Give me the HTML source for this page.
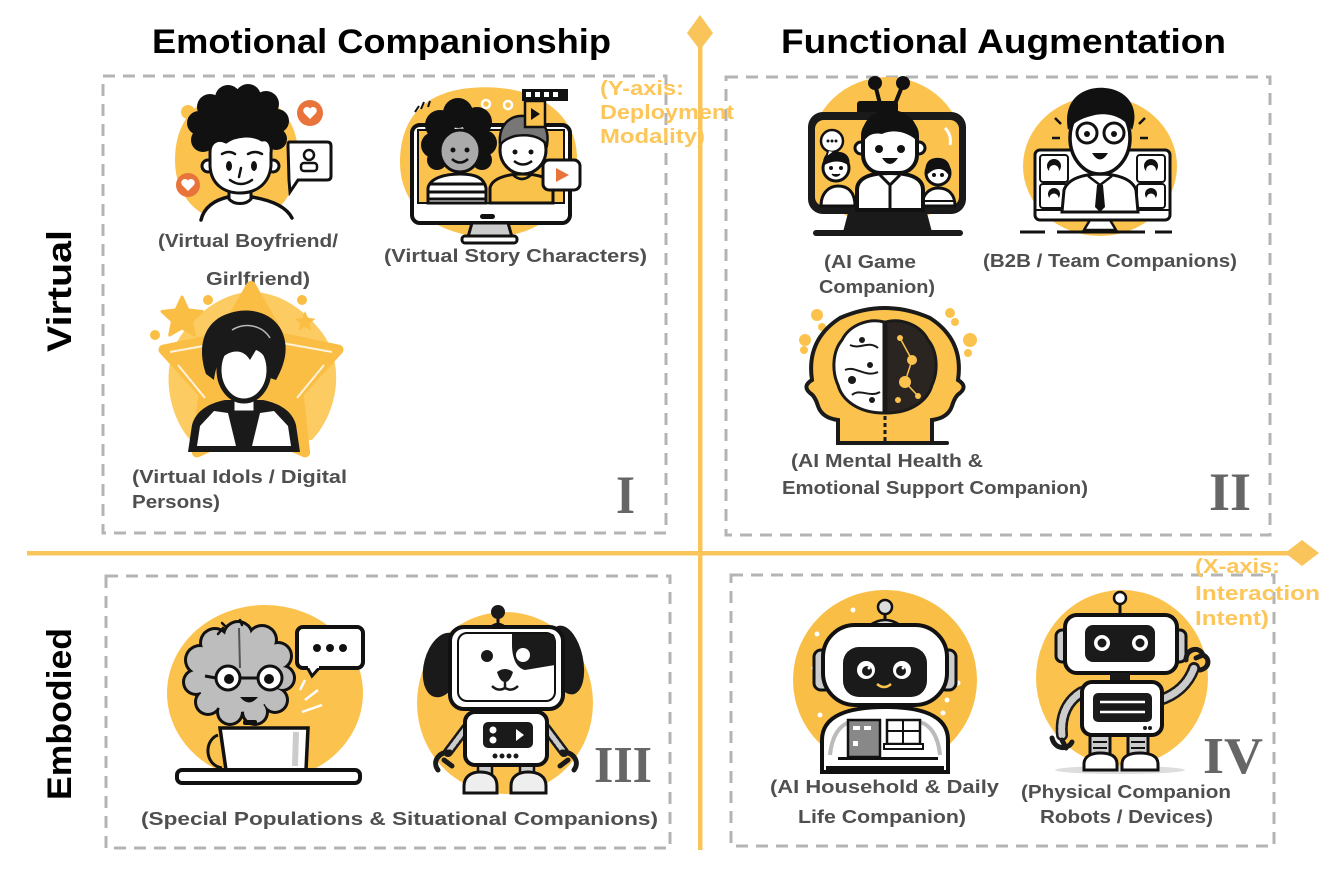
<!DOCTYPE html>
<html><head><meta charset="utf-8"><style>
html,body{margin:0;padding:0;background:#fff;}
svg{display:block;}
.t{font-family:"Liberation Sans",Arial,sans-serif;font-weight:bold;}
.lb{font-family:"Liberation Sans",Arial,sans-serif;font-weight:bold;font-size:18.5px;fill:#4f4f4f;}
.ax{font-family:"Liberation Sans",Arial,sans-serif;font-weight:bold;font-size:20px;fill:#FCC65A;}
.rn{font-family:"Liberation Serif","Times New Roman",serif;font-weight:bold;fill:#666;}
</style></head><body>
<svg width="1344" height="877" viewBox="0 0 1344 877" xmlns="http://www.w3.org/2000/svg">
<rect width="1344" height="877" fill="#fff"/>

<!-- dashed boxes -->
<g fill="none" stroke="#b4b4b4" stroke-width="3" stroke-dasharray="12 8">
<rect x="103" y="76" width="563" height="457"/>
<rect x="726" y="77" width="544" height="458"/>
<rect x="106" y="576" width="564" height="272"/>
<rect x="731" y="575" width="543" height="271"/>
</g>

<!-- axes -->
<g fill="#F9C55A">
<rect x="698" y="30" width="4.5" height="820"/>
<polygon points="700,15 713,33 700,50 687,33"/>
<rect x="27" y="551" width="1280" height="4.5"/>
<polygon points="1285,553 1302,540 1319,553 1302,566"/>
</g>

<!-- titles -->
<text class="t" x="152" y="53" font-size="34" textLength="459" lengthAdjust="spacingAndGlyphs" fill="#000">Emotional Companionship</text>
<text class="t" x="781" y="53" font-size="34" textLength="445" lengthAdjust="spacingAndGlyphs" fill="#000">Functional Augmentation</text>

<!-- side labels -->
<text class="t" transform="translate(71,291) rotate(-90)" text-anchor="middle" font-size="34" textLength="122" lengthAdjust="spacingAndGlyphs" fill="#000">Virtual</text>
<text class="t" transform="translate(71,714) rotate(-90)" text-anchor="middle" font-size="34" textLength="172" lengthAdjust="spacingAndGlyphs" fill="#000">Embodied</text>

<!-- ================= Q1 ================= -->
<!-- Boyfriend -->
<g>
<path d="M236,93 C275,92 300,120 298,160 C296,200 272,224 236,223 C200,222 175,198 175,160 C175,118 200,94 236,93 Z" fill="#FBC34E"/>
<circle cx="188" cy="112" r="7" fill="#FBC34E"/>
<path d="M198,224 C201,207 214,200 228,197 L252,197 C270,200 288,206 296,224 Z" fill="#fff"/>
<path d="M201,220 C204,207 215,200 228,197 M252,197 C270,200 286,206 292,218" fill="none" stroke="#111" stroke-width="3.5" stroke-linecap="round"/>
<path d="M229,186 L229,199 C234,205 246,205 251,199 L251,186" fill="#fff" stroke="#111" stroke-width="3"/>
<g fill="#111">
<circle cx="203" cy="140" r="12"/><circle cx="199" cy="123" r="12"/><circle cx="210" cy="107" r="13"/>
<circle cx="228" cy="98" r="13"/><circle cx="248" cy="97" r="13"/><circle cx="266" cy="104" r="13"/>
<circle cx="277" cy="121" r="12"/><circle cx="276" cy="139" r="11"/><ellipse cx="240" cy="124" rx="36" ry="26"/>
</g>
<circle cx="208" cy="166" r="6" fill="#fff" stroke="#111" stroke-width="3"/>
<circle cx="273" cy="166" r="6" fill="#fff" stroke="#111" stroke-width="3"/>
<path d="M210,152 C210,142 218,138 226,142 C236,135 252,134 262,140 C269,138 272,146 271,153 L271,166 C269,185 255,193 240,193 C225,193 211,185 210,166 Z" fill="#fff" stroke="#111" stroke-width="3"/>
<ellipse cx="229" cy="166" rx="3" ry="5" fill="#111"/><ellipse cx="254" cy="166" rx="3" ry="5" fill="#111"/>
<path d="M222,154 Q229,150 235,154 M248,154 Q255,150 262,154 M241,168 L239,177 M230,180 Q241,188 252,180" fill="none" stroke="#111" stroke-width="2.5" stroke-linecap="round"/>
<circle cx="310" cy="113" r="13" fill="#E8743B"/>
<path d="M310,119 L304,113 A3.2,3.2 0 0 1 310,108.5 A3.2,3.2 0 0 1 316,113 Z" fill="#fff"/>
<circle cx="188" cy="185" r="12" fill="#E8743B"/>
<path d="M188,191 L182,185 A3.2,3.2 0 0 1 188,180.5 A3.2,3.2 0 0 1 194,185 Z" fill="#fff"/>
<path d="M289,142 L327,142 Q331,142 331,146 L331,176 Q331,180 327,180 L298,180 L290,192 L289,180 L288,146 Q288,142 289,142 Z" fill="#fff" stroke="#111" stroke-width="3"/>
<circle cx="309" cy="155" r="5" fill="none" stroke="#111" stroke-width="2.5"/>
<rect x="301" y="163" width="16" height="8" rx="3" fill="none" stroke="#111" stroke-width="2.5"/>
</g>
<text class="lb" x="158" y="247" textLength="180" lengthAdjust="spacingAndGlyphs">(Virtual Boyfriend/</text>
<text class="lb" x="206" y="285" textLength="104" lengthAdjust="spacingAndGlyphs">Girlfriend)</text>

<!-- Story characters -->
<g>
<path d="M470,88 C530,82 578,110 577,160 C576,205 540,238 488,237 C440,236 400,210 400,162 C400,118 425,92 470,88 Z" fill="#FBC34E"/>
<rect x="412" y="125" width="158" height="98" rx="8" fill="#fff" stroke="#111" stroke-width="4"/>
<rect x="418" y="130" width="146" height="73" fill="#FBC34E" stroke="#111" stroke-width="2"/>
<!-- left person -->
<g fill="#111">
<circle cx="440" cy="125" r="15"/><circle cx="458" cy="113" r="15"/><circle cx="477" cy="122" r="15"/>
<circle cx="434" cy="145" r="13"/><circle cx="484" cy="143" r="13"/><circle cx="437" cy="160" r="10"/><circle cx="482" cy="160" r="10"/>
</g>
<ellipse cx="460" cy="151" rx="20" ry="21" fill="#aaa" stroke="#111" stroke-width="3"/>
<circle cx="453" cy="150" r="2.5" fill="#111"/><circle cx="467" cy="150" r="2.5" fill="#111"/>
<path d="M452,159 Q460,166 468,159" fill="none" stroke="#111" stroke-width="2.5"/>
<path d="M428,203 L428,188 C430,178 445,174 460,174 C476,174 484,178 486,188 L486,203 Z" fill="#fff" stroke="#111" stroke-width="3"/>
<path d="M429,184 L485,184 M428,192 L486,192 M428,199 L486,199" stroke="#111" stroke-width="3"/>
<!-- right person -->
<path d="M490,203 L490,188 C492,178 508,174 522,174 C538,174 552,178 553,188 L553,203 Z" fill="#F9C24A" stroke="#111" stroke-width="3"/>
<path d="M512,174 Q522,184 532,174" fill="none" stroke="#111" stroke-width="2.5"/>
<ellipse cx="523" cy="150" rx="23" ry="24" fill="#fff" stroke="#111" stroke-width="3"/>
<path d="M500,145 C498,125 510,115 524,116 C540,116 550,126 547,145 C540,136 528,134 515,136 C508,138 503,141 500,145 Z" fill="#777" stroke="#111" stroke-width="2.5"/>
<circle cx="515" cy="152" r="2.5" fill="#111"/><circle cx="531" cy="152" r="2.5" fill="#111"/>
<path d="M514,161 Q523,168 532,161" fill="none" stroke="#111" stroke-width="2.5"/>
<rect x="480" y="214" width="15" height="5" rx="2.5" fill="#111"/>
<path d="M472,223 L508,223 L512,237 L468,237 Z" fill="#ccc" stroke="#111" stroke-width="3"/>
<rect x="462" y="236" width="55" height="7" rx="3" fill="#fff" stroke="#111" stroke-width="3"/>
<rect x="522" y="89" width="46" height="12" fill="#111"/>
<g fill="#fff"><rect x="526" y="92" width="5" height="5"/><rect x="535" y="92" width="5" height="5"/><rect x="544" y="92" width="5" height="5"/><rect x="553" y="92" width="5" height="5"/></g>
<rect x="525" y="101" width="20" height="26" fill="#FBC34E" stroke="#111" stroke-width="2.5"/>
<path d="M531,108 L540,114 L531,120 Z" fill="#111"/>
<rect x="543" y="160" width="37" height="30" rx="6" fill="#fff" stroke="#111" stroke-width="3"/>
<path d="M556,168 L569,175 L556,182 Z" fill="#E8743B"/>
<circle cx="486" cy="104" r="4" fill="none" stroke="#fff" stroke-width="2.5"/>
<circle cx="508" cy="105" r="4" fill="none" stroke="#fff" stroke-width="2.5"/>
<path d="M415,112 L419,106 M421,109 L424,102 M428,107 L430,101" stroke="#111" stroke-width="2"/>
</g>
<text class="lb" x="384" y="262" textLength="263" lengthAdjust="spacingAndGlyphs">(Virtual Story Characters)</text>

<!-- Idol -->
<g>
<path d="M190,440 C165,410 160,360 185,330 C205,305 230,292 252,292 C275,292 300,305 320,330 C345,360 340,410 312,440 Z" fill="#FCCB62"/>
<polygon points="251,286 280.4,337.5 338.5,349.6 298.6,393.5 305.1,452.4 251,428 196.9,452.4 203.4,393.5 163.5,349.6 221.6,337.5" fill="#FBBE45" stroke="#FBBE45" stroke-width="10" stroke-linejoin="round"/>
<path d="M170,352 L220,343 M332,352 L282,343 M205,398 L178,365 M297,398 L324,365" stroke="#fff" stroke-width="2" opacity="0.8"/>
<polygon points="182,297 187.9,309.9 202,311.5 191.5,321.1 194.3,335 182,328 169.7,335 172.5,321.1 162,311.5 176.1,309.9" fill="#FBBE45" stroke="#FBBE45" stroke-width="3" stroke-linejoin="round"/>
<polygon points="305,311 307.9,318 315.5,318.6 309.8,323.5 311.5,330.9 305,327 298.5,330.9 300.2,323.5 294.5,318.6 302.1,318" fill="#FBBE45"/>
<circle cx="208" cy="300" r="5" fill="#FBBE45"/><circle cx="302" cy="300" r="5" fill="#FBBE45"/><circle cx="155" cy="335" r="5" fill="#FBBE45"/>
<path d="M188,452 L192,425 C196,410 210,403 225,400 L263,400 C278,403 292,410 296,425 L300,452 Z" fill="#1a1a1a"/>
<polygon points="197,446 200,426 214,411 228,413 236,446" fill="#fff"/>
<polygon points="291,446 288,426 274,411 260,413 252,446" fill="#fff"/>
<rect x="233" y="392" width="22" height="20" fill="#fff" stroke="#1a1a1a" stroke-width="3"/>
<polygon points="236,412 252,412 250,446 238,446" fill="#1a1a1a"/>
<ellipse cx="244" cy="370" rx="25" ry="31" fill="#fff" stroke="#1a1a1a" stroke-width="5"/>
<path d="M206,374 C196,345 205,320 230,313 C252,306 276,314 283,334 C289,350 284,366 276,380 L270,378 C270,362 264,353 256,350 L250,360 C244,350 234,349 224,356 C217,362 215,372 214,380 Z" fill="#1a1a1a"/>
<path d="M232,330 C245,322 262,325 270,338" fill="none" stroke="#fff" stroke-width="1.5" opacity="0.7"/>
</g>
<text class="lb" x="132" y="483" textLength="215" lengthAdjust="spacingAndGlyphs">(Virtual Idols / Digital</text>
<text class="lb" x="132" y="508" textLength="88" lengthAdjust="spacingAndGlyphs">Persons)</text>
<text class="rn" x="616" y="513" font-size="54" textLength="19" lengthAdjust="spacingAndGlyphs">I</text>

<!-- Y-axis label -->
<text class="ax" x="600" y="95" textLength="84" lengthAdjust="spacingAndGlyphs">(Y-axis:</text>
<text class="ax" x="600" y="119" textLength="134" lengthAdjust="spacingAndGlyphs">Deployment</text>
<text class="ax" x="600" y="143" textLength="105" lengthAdjust="spacingAndGlyphs">Modality)</text>

<!-- ================= Q2 ================= -->
<!-- AI Game -->
<g>
<ellipse cx="887" cy="152" rx="77" ry="75" fill="#FBC34E"/>
<path d="M880,104 L875,84 M895,104 L903,84" stroke="#111" stroke-width="4"/>
<circle cx="875" cy="83" r="7" fill="#111"/><circle cx="903" cy="83" r="7" fill="#111"/>
<rect x="857" y="101" width="41" height="14" rx="3" fill="#111"/>
<rect x="808" y="112" width="158" height="102" rx="15" fill="#1a1a1a"/>
<rect x="815" y="120" width="144" height="86" rx="9" fill="#FBC34E"/>
<path d="M848,213 L927,213 L932,232 L843,232 Z" fill="#1a1a1a"/>
<rect x="813" y="230" width="150" height="6" rx="3" fill="#1a1a1a"/>
<!-- left person -->
<path d="M821,206 C821,192 830,186 838,186 C848,186 855,192 855,206 Z" fill="#fff" stroke="#111" stroke-width="3"/>
<circle cx="836" cy="168" r="13" fill="#fff" stroke="#111" stroke-width="3"/>
<path d="M823,166 C822,152 832,150 840,152 C848,153 851,160 849,166 C842,160 832,160 823,166 Z" fill="#111"/>
<circle cx="831" cy="168" r="2" fill="#111"/><circle cx="841" cy="168" r="2" fill="#111"/>
<path d="M832,174 Q836,178 840,174" fill="#111" stroke="#111" stroke-width="1.5"/>
<!-- right person -->
<path d="M922,206 C922,194 930,188 938,188 C948,188 955,194 955,206 Z" fill="#fff" stroke="#111" stroke-width="3"/>
<path d="M924,201 L954,201" stroke="#111" stroke-width="2"/>
<circle cx="938" cy="173" r="12" fill="#fff" stroke="#111" stroke-width="3"/>
<path d="M926,176 C923,160 932,157 940,158 C948,159 952,165 950,178 C946,168 936,165 926,176 Z" fill="#111"/>
<circle cx="934" cy="175" r="2" fill="#111"/><circle cx="942" cy="175" r="2" fill="#111"/>
<!-- speech -->
<circle cx="832" cy="141" r="11" fill="#fff" stroke="#111" stroke-width="2.5"/>
<path d="M828,151 L826,158 L834,152" fill="#fff" stroke="#111" stroke-width="2"/>
<circle cx="828" cy="141" r="1.5" fill="#111"/><circle cx="832" cy="141" r="1.5" fill="#111"/><circle cx="836" cy="141" r="1.5" fill="#111"/>
<!-- center person -->
<path d="M857,210 L857,190 C857,178 870,173 890,173 C910,173 923,178 923,190 L923,210 Z" fill="#fff" stroke="#111" stroke-width="4"/>
<path d="M880,175 L890,185 L900,175 M890,185 L890,210" fill="none" stroke="#111" stroke-width="3"/>
<circle cx="861" cy="148" r="6" fill="#fff" stroke="#111" stroke-width="3"/>
<circle cx="919" cy="148" r="6" fill="#fff" stroke="#111" stroke-width="3"/>
<rect x="863" y="118" width="54" height="55" rx="18" fill="#fff" stroke="#111" stroke-width="4"/>
<path d="M862,142 C860,118 876,110 890,110 C906,110 920,120 918,142 C910,133 895,128 882,134 C872,132 866,136 862,145 Z" fill="#111"/>
<circle cx="879" cy="149" r="4" fill="#111"/><circle cx="901" cy="149" r="4" fill="#111"/>
<path d="M882,158 Q890,170 898,158 Z" fill="#111"/>
<path d="M945,128 Q952,135 950,145" stroke="#fff" stroke-width="3" fill="none"/>
</g>
<text class="lb" x="824" y="268" textLength="92" lengthAdjust="spacingAndGlyphs">(AI Game</text>
<text class="lb" x="819" y="293" textLength="116" lengthAdjust="spacingAndGlyphs">Companion)</text>

<!-- B2B -->
<g>
<ellipse cx="1100" cy="166" rx="77" ry="70" fill="#FBC34E"/>
<path d="M1020,232 L1045,232 M1057,232 L1145,232 M1155,232 L1172,232" stroke="#111" stroke-width="3"/>
<path d="M1090,220 L1084,230 L1116,230 L1110,220 Z" fill="#fff" stroke="#111" stroke-width="2.5"/>
<rect x="1035" y="150" width="135" height="70" rx="5" fill="#fff" stroke="#111" stroke-width="3"/>
<path d="M1035,210 L1170,210" stroke="#111" stroke-width="2"/>
<g fill="#fff" stroke="#111" stroke-width="2">
<rect x="1040" y="155" width="28" height="27" rx="3"/><rect x="1040" y="184" width="28" height="24" rx="3"/>
<rect x="1137" y="155" width="28" height="27" rx="3"/><rect x="1137" y="184" width="28" height="24" rx="3"/>
</g>
<g fill="#111"><circle cx="1054" cy="166" r="7"/><circle cx="1151" cy="166" r="7"/><circle cx="1054" cy="194" r="6"/><circle cx="1151" cy="194" r="6"/></g>
<g fill="#fff"><circle cx="1054" cy="170" r="5"/><circle cx="1151" cy="170" r="5"/><circle cx="1054" cy="198" r="4.5"/><circle cx="1151" cy="198" r="4.5"/></g>
<path d="M1062,212 L1064,190 C1068,178 1085,174 1100,174 C1115,174 1132,178 1136,190 L1138,212 Z" fill="#fff" stroke="#111" stroke-width="3"/>
<path d="M1088,176 L1100,185 L1112,176" fill="none" stroke="#111" stroke-width="2.5"/>
<path d="M1097,185 L1103,185 L1105,207 L1100,212 L1095,207 Z" fill="#111"/>
<ellipse cx="1100" cy="138" rx="30" ry="36" fill="#fff" stroke="#111" stroke-width="3.5"/>
<path d="M1068,130 C1062,98 1085,86 1105,88 C1128,90 1140,108 1132,130 C1125,118 1110,112 1095,115 C1082,118 1074,122 1068,130 Z" fill="#111"/>
<circle cx="1087" cy="133" r="10" fill="#fff" stroke="#111" stroke-width="3"/>
<circle cx="1114" cy="133" r="10" fill="#fff" stroke="#111" stroke-width="3"/>
<circle cx="1087" cy="134" r="3" fill="#111"/><circle cx="1114" cy="134" r="3" fill="#111"/>
<path d="M1092,153 Q1100,166 1108,153 Z" fill="#111"/>
<path d="M1055,118 L1061,124 M1145,118 L1139,124 M1052,138 L1060,138 M1148,138 L1140,138" stroke="#111" stroke-width="2.5"/>
</g>
<text class="lb" x="983" y="267" textLength="254" lengthAdjust="spacingAndGlyphs">(B2B / Team Companions)</text>

<!-- Brain heads -->
<g>
<circle cx="817" cy="315" r="6" fill="#FBC34E"/><circle cx="822" cy="327" r="4" fill="#FBC34E"/>
<circle cx="805" cy="340" r="6" fill="#FBC34E"/><circle cx="804" cy="350" r="4" fill="#FBC34E"/>
<circle cx="950" cy="313" r="5" fill="#FBC34E"/><circle cx="955" cy="322" r="4" fill="#FBC34E"/>
<circle cx="970" cy="340" r="7" fill="#FBC34E"/><circle cx="968" cy="353" r="4" fill="#FBC34E"/>
<path d="M838,443 L838,420 Q822,418 818,406 Q815,396 810,393 Q802,386 812,380 Q806,340 840,318 Q885,298 930,318 Q964,340 958,380 Q968,386 960,393 Q955,396 952,406 Q948,418 932,420 L932,443 Z" fill="#FBC34E" stroke="#1a1a1a" stroke-width="4"/>
<path d="M884,322 C870,318 850,324 842,340 C832,352 832,372 838,385 C842,400 858,413 884,413 Z" fill="#fff" stroke="#1a1a1a" stroke-width="3"/>
<path d="M886,322 C900,318 920,324 928,340 C938,352 938,372 932,385 C928,400 912,413 886,413 Z" fill="#2a2520" stroke="#1a1a1a" stroke-width="3"/>
<path d="M850,345 C860,350 868,340 878,348 M845,370 C855,365 865,378 878,372 M852,395 C860,388 870,398 880,392" fill="none" stroke="#1a1a1a" stroke-width="2"/>
<g fill="#1a1a1a"><circle cx="862" cy="340" r="3"/><circle cx="852" cy="380" r="4"/><circle cx="872" cy="400" r="3"/><circle cx="870" cy="365" r="3"/></g>
<g fill="#FBC34E"><circle cx="900" cy="338" r="3"/><circle cx="912" cy="360" r="5"/><circle cx="905" cy="382" r="6"/><circle cx="918" cy="396" r="3"/><circle cx="898" cy="400" r="3"/></g>
<path d="M900,338 L912,360 L905,382 L918,396" fill="none" stroke="#FBC34E" stroke-width="1.5"/>
<path d="M885,416 L885,443" stroke="#1a1a1a" stroke-width="3" stroke-dasharray="4 3"/>
<rect x="837" y="441" width="112" height="4" rx="2" fill="#1a1a1a"/>
</g>
<text class="lb" x="791" y="467" textLength="192" lengthAdjust="spacingAndGlyphs">(AI Mental Health &amp;</text>
<text class="lb" x="782" y="494" textLength="306" lengthAdjust="spacingAndGlyphs">Emotional Support Companion)</text>
<text class="rn" x="1209" y="510" font-size="54" textLength="42" lengthAdjust="spacingAndGlyphs">II</text>

<!-- ================= Q3 ================= -->
<g>
<ellipse cx="265" cy="693" rx="98" ry="88" fill="#FBC34E"/>
<!-- brain -->
<g fill="#111">
<circle cx="200" cy="660" r="16"/><circle cx="215" cy="643" r="16"/><circle cx="238" cy="636" r="16"/><circle cx="262" cy="640" r="16"/><circle cx="278" cy="656" r="15"/>
<circle cx="282" cy="678" r="14"/><circle cx="275" cy="700" r="14"/><circle cx="255" cy="712" r="14"/><circle cx="230" cy="712" r="14"/><circle cx="208" cy="702" r="14"/><circle cx="196" cy="682" r="14"/>
</g>
<g fill="#bdbdbd">
<circle cx="200" cy="660" r="13"/><circle cx="215" cy="643" r="13"/><circle cx="238" cy="636" r="13"/><circle cx="262" cy="640" r="13"/><circle cx="278" cy="656" r="12"/>
<circle cx="282" cy="678" r="11"/><circle cx="275" cy="700" r="11"/><circle cx="255" cy="712" r="11"/><circle cx="230" cy="712" r="11"/><circle cx="208" cy="702" r="11"/><circle cx="196" cy="682" r="11"/>
<ellipse cx="238" cy="676" rx="42" ry="36"/>
</g>
<path d="M239,628 L240,668" stroke="#555" stroke-width="2"/>
<path d="M218,634 L223,628 M240,620 L242,625 M222,623 L225,626" stroke="#111" stroke-width="2.5" stroke-linecap="round"/>
<circle cx="228" cy="678" r="12" fill="#fff" stroke="#111" stroke-width="3"/>
<circle cx="270" cy="678" r="12" fill="#fff" stroke="#111" stroke-width="3"/>
<path d="M240,678 L258,678 M216,678 L205,676" stroke="#111" stroke-width="3"/>
<circle cx="229" cy="679" r="5" fill="#111"/><circle cx="269" cy="679" r="5" fill="#111"/>
<path d="M240,697 Q249,708 258,697 Z" fill="#111"/>
<rect x="243" y="720" width="14" height="5" rx="2" fill="#111"/>
<rect x="297" y="627" width="66" height="41" rx="6" fill="#fff" stroke="#111" stroke-width="4"/>
<path d="M307,667 L312,676 L320,667" fill="#fff" stroke="#111" stroke-width="3"/>
<rect x="308" y="664" width="11" height="4" fill="#fff"/>
<circle cx="317" cy="648" r="4" fill="#111"/><circle cx="330" cy="648" r="4" fill="#111"/><circle cx="343" cy="648" r="4" fill="#111"/>
<path d="M305,700 L318,690 M302,712 L322,705 M300,690 L305,680" stroke="#fff" stroke-width="2.5"/>
<path d="M218,735 C204,740 204,765 222,768" fill="none" stroke="#111" stroke-width="3"/>
<path d="M220,728 L308,728 L306,770 L226,770 Z" fill="#fff" stroke="#111" stroke-width="3.5"/>
<path d="M296,732 L295,766" stroke="#ccc" stroke-width="6"/>
<rect x="177" y="770" width="183" height="13" rx="5" fill="#fff" stroke="#111" stroke-width="4"/>
</g>
<!-- Dog robot -->
<g>
<ellipse cx="505" cy="703" rx="88" ry="91" fill="#FBC34E"/>
<path d="M498,618 L498,628" stroke="#111" stroke-width="3"/>
<circle cx="498" cy="612" r="7" fill="#1a1a1a"/>
<path d="M488,630 Q498,618 508,630 Z" fill="#ddd" stroke="#111" stroke-width="2.5"/>
<ellipse cx="443" cy="665" rx="19" ry="33" transform="rotate(15 443 665)" fill="#1a1a1a"/>
<ellipse cx="566" cy="660" rx="17" ry="35" transform="rotate(-12 566 660)" fill="#1a1a1a"/>
<path d="M495,700 L515,700 L515,714 L495,714 Z" fill="#ccc" stroke="#111" stroke-width="2.5"/>
<rect x="450" y="627" width="113" height="82" rx="14" fill="#fff" stroke="#111" stroke-width="4"/>
<rect x="458" y="633" width="97" height="68" rx="9" fill="none" stroke="#111" stroke-width="2"/>
<path d="M512,634 L552,634 Q555,634 555,640 L555,665 L525,670 C515,668 512,655 512,645 Z" fill="#1a1a1a"/>
<circle cx="487" cy="656" r="6" fill="#1a1a1a"/>
<circle cx="523" cy="655" r="7" fill="#fff"/>
<path d="M497,672 Q505,666 513,672 Q510,682 505,682 Q500,682 497,672 Z" fill="#1a1a1a"/>
<path d="M505,682 L505,688 M492,686 Q498,692 505,688 Q512,692 518,686" fill="none" stroke="#1a1a1a" stroke-width="2.5"/>
<path d="M466,728 L448,752 M546,728 L564,752" stroke="#1a1a1a" stroke-width="10" stroke-linecap="round"/>
<path d="M466,728 L448,752 M546,728 L564,752" stroke="#ccc" stroke-width="5" stroke-linecap="round" stroke-dasharray="3 2"/>
<path d="M450,752 C438,752 432,762 438,770 M444,760 L452,766" fill="none" stroke="#1a1a1a" stroke-width="5" stroke-linecap="round"/>
<path d="M562,752 C574,752 580,762 574,770 M568,760 L560,766" fill="none" stroke="#1a1a1a" stroke-width="5" stroke-linecap="round"/>
<rect x="478" y="764" width="14" height="12" fill="#ccc" stroke="#111" stroke-width="2.5"/>
<rect x="520" y="764" width="14" height="12" fill="#ccc" stroke="#111" stroke-width="2.5"/>
<rect x="465" y="712" width="82" height="53" rx="10" fill="#fff" stroke="#111" stroke-width="4"/>
<rect x="483" y="722" width="50" height="26" rx="5" fill="#1a1a1a"/>
<circle cx="493" cy="730" r="3.5" fill="#fff"/><circle cx="493" cy="740" r="3.5" fill="#fff"/>
<path d="M516,729 L524,735 L516,741 Z" fill="#fff"/>
<g fill="#1a1a1a"><circle cx="495" cy="756" r="2.5"/><circle cx="502" cy="756" r="2.5"/><circle cx="509" cy="756" r="2.5"/><circle cx="516" cy="756" r="2.5"/></g>
<path d="M464,793 L464,786 C464,776 472,772 480,772 C490,772 497,776 497,786 L497,793 Z" fill="#eee" stroke="#111" stroke-width="3"/>
<path d="M511,793 L511,786 C511,776 519,772 528,772 C538,772 546,776 546,786 L546,793 Z" fill="#eee" stroke="#111" stroke-width="3"/>
</g>
<text class="lb" x="141" y="825" textLength="517" lengthAdjust="spacingAndGlyphs">(Special Populations &amp; Situational Companions)</text>
<text class="rn" x="594" y="782" font-size="52" textLength="58" lengthAdjust="spacingAndGlyphs">III</text>

<!-- ================= Q4 ================= -->
<!-- Household robot -->
<g>
<ellipse cx="885" cy="680" rx="92" ry="90" fill="#F8BE45"/>
<g fill="#fff"><circle cx="853" cy="610" r="2.5"/><circle cx="817" cy="634" r="2.5"/><circle cx="814" cy="668" r="2.5"/><circle cx="820" cy="715" r="2.5"/><circle cx="940" cy="645" r="2.5"/><circle cx="958" cy="683" r="2.5"/><circle cx="947" cy="700" r="2.5"/><circle cx="943" cy="713" r="2.5"/></g>
<path d="M885,612 L885,622" stroke="#111" stroke-width="3"/>
<circle cx="885" cy="607" r="7" fill="#ddd" stroke="#111" stroke-width="2.5"/>
<path d="M866,628 Q885,612 904,628 Z" fill="#ddd" stroke="#111" stroke-width="2.5"/>
<path d="M822,772 L822,740 C822,715 850,707 885,707 C920,707 948,715 948,740 L948,772 Z" fill="#fff" stroke="#111" stroke-width="4"/>
<path d="M830,755 C832,735 840,725 850,722 M940,755 C938,735 930,725 920,722" stroke="#bbb" stroke-width="4" fill="none"/>
<rect x="814" y="650" width="17" height="40" rx="7" fill="#ccc" stroke="#111" stroke-width="3"/>
<rect x="939" y="650" width="17" height="40" rx="7" fill="#ccc" stroke="#111" stroke-width="3"/>
<rect x="823" y="625" width="124" height="80" rx="32" fill="#fff" stroke="#111" stroke-width="4"/>
<rect x="843" y="647" width="84" height="50" rx="16" fill="#1a1a1a"/>
<circle cx="866" cy="670" r="9" fill="#fff"/><circle cx="902" cy="670" r="9" fill="#fff"/>
<circle cx="867" cy="671" r="5" fill="#1a1a1a"/><circle cx="901" cy="671" r="5" fill="#1a1a1a"/>
<circle cx="869" cy="668" r="1.5" fill="#fff"/><circle cx="903" cy="668" r="1.5" fill="#fff"/>
<path d="M877,684 Q884,690 891,684" fill="none" stroke="#FBC34E" stroke-width="2.5"/>
<rect x="848" y="720" width="32" height="37" fill="#888" stroke="#111" stroke-width="2.5"/>
<rect x="853" y="726" width="7" height="4" fill="#fff"/><rect x="864" y="726" width="7" height="4" fill="#fff"/>
<rect x="853" y="741" width="5" height="5" fill="#fff"/>
<rect x="887" y="720" width="33" height="24" fill="#fff" stroke="#111" stroke-width="2.5"/>
<path d="M903,720 L903,744 M887,731 L920,731" stroke="#111" stroke-width="2"/>
<rect x="884" y="744" width="39" height="5" fill="#fff" stroke="#111" stroke-width="2"/>
<rect x="838" y="757" width="100" height="3" fill="#111"/>
<rect x="826" y="766" width="118" height="5" fill="#111"/>
</g>
<text class="lb" x="770" y="793" textLength="229" lengthAdjust="spacingAndGlyphs">(AI Household &amp; Daily</text>
<text class="lb" x="798" y="823" textLength="168" lengthAdjust="spacingAndGlyphs">Life Companion)</text>

<!-- Physical robot -->
<g>
<ellipse cx="1122" cy="678" rx="86" ry="88" fill="#FBC34E"/>
<ellipse cx="1120" cy="770" rx="65" ry="4" fill="#ddd"/>
<path d="M1120,603 L1120,617" stroke="#111" stroke-width="3"/>
<circle cx="1120" cy="598" r="6" fill="#fff" stroke="#111" stroke-width="2.5"/>
<rect x="1056" y="630" width="14" height="32" rx="6" fill="#ccc" stroke="#111" stroke-width="3"/>
<rect x="1172" y="630" width="14" height="32" rx="6" fill="#ccc" stroke="#111" stroke-width="3"/>
<rect x="1065" y="615" width="112" height="58" rx="12" fill="#fff" stroke="#111" stroke-width="4"/>
<rect x="1085" y="625" width="70" height="37" rx="8" fill="#1a1a1a"/>
<circle cx="1102" cy="643" r="8" fill="#fff"/><circle cx="1140" cy="643" r="8" fill="#fff"/>
<circle cx="1102" cy="643" r="4.5" fill="#1a1a1a"/><circle cx="1140" cy="643" r="4.5" fill="#1a1a1a"/>
<rect x="1110" y="673" width="20" height="10" fill="#1a1a1a"/>
<path d="M1082,692 C1068,700 1060,715 1062,735" fill="none" stroke="#1a1a1a" stroke-width="12" stroke-linecap="round"/>
<path d="M1082,692 C1068,700 1060,715 1062,735" fill="none" stroke="#ccc" stroke-width="7" stroke-linecap="round" stroke-dasharray="3 2"/>
<path d="M1052,738 C1055,750 1068,750 1072,742 M1062,740 L1066,748" fill="none" stroke="#1a1a1a" stroke-width="5" stroke-linecap="round"/>
<path d="M1160,700 C1175,695 1188,685 1194,668" fill="none" stroke="#1a1a1a" stroke-width="12" stroke-linecap="round"/>
<path d="M1160,700 C1175,695 1188,685 1194,668" fill="none" stroke="#ccc" stroke-width="7" stroke-linecap="round" stroke-dasharray="3 2"/>
<path d="M1186,660 C1186,648 1200,646 1203,655 L1196,658 M1203,655 C1210,658 1210,668 1200,670" fill="none" stroke="#1a1a1a" stroke-width="5" stroke-linecap="round"/>
<rect x="1090" y="734" width="20" height="22" fill="#ccc" stroke="#111" stroke-width="3"/>
<rect x="1128" y="734" width="20" height="22" fill="#ccc" stroke="#111" stroke-width="3"/>
<path d="M1093,742 L1107,742 M1093,748 L1107,748 M1131,742 L1145,742 M1131,748 L1145,748" stroke="#111" stroke-width="2"/>
<path d="M1084,770 L1084,764 C1084,756 1092,753 1100,753 C1110,753 1117,756 1117,764 L1117,770 Z" fill="#fff" stroke="#111" stroke-width="3"/>
<path d="M1122,770 L1122,764 C1122,756 1130,753 1140,753 C1150,753 1158,756 1158,764 L1158,770 Z" fill="#fff" stroke="#111" stroke-width="3"/>
<rect x="1082" y="682" width="80" height="53" rx="10" fill="#fff" stroke="#111" stroke-width="4"/>
<rect x="1093" y="693" width="59" height="29" rx="5" fill="#1a1a1a"/>
<path d="M1100,702 L1145,702 M1100,712 L1145,712" stroke="#fff" stroke-width="2.5"/>
<circle cx="1145" cy="728" r="2" fill="#1a1a1a"/><circle cx="1150" cy="728" r="2" fill="#1a1a1a"/>
</g>
<text class="lb" x="1021" y="798" textLength="210" lengthAdjust="spacingAndGlyphs">(Physical Companion</text>
<text class="lb" x="1040" y="823" textLength="173" lengthAdjust="spacingAndGlyphs">Robots / Devices)</text>
<text class="rn" x="1203" y="773" font-size="52" textLength="60" lengthAdjust="spacingAndGlyphs">IV</text>

<!-- X-axis label -->
<text class="ax" x="1195" y="573" textLength="85" lengthAdjust="spacingAndGlyphs">(X-axis:</text>
<text class="ax" x="1195" y="600" textLength="125" lengthAdjust="spacingAndGlyphs">Interaction</text>
<text class="ax" x="1195" y="625" textLength="74" lengthAdjust="spacingAndGlyphs">Intent)</text>
</svg>
</body></html>
